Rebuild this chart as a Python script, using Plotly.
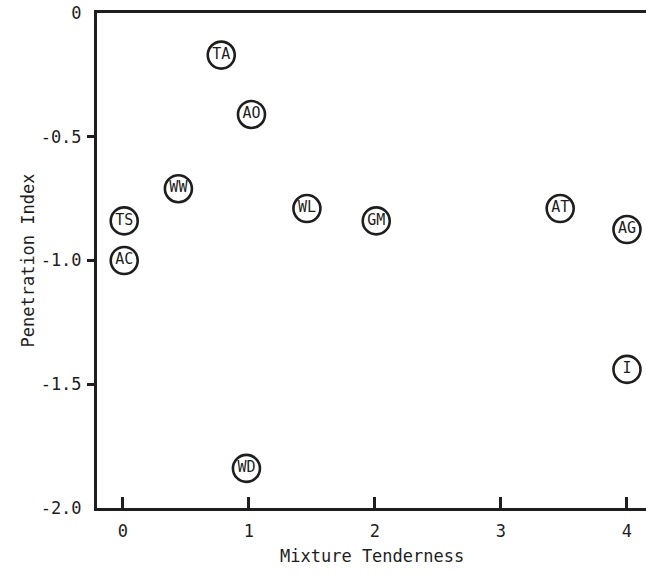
import plotly.graph_objects as go

labels = ["TA", "AO", "WW", "TS", "AC", "WL", "GM", "AT", "AG", "I", "WD"]
tenderness = [0.78, 1.02, 0.44, 0.01, 0.01, 1.46, 2.01, 3.47, 4.0, 4.0, 0.98]
penetration = [-0.17, -0.41, -0.71, -0.84, -1.0, -0.79, -0.84, -0.79, -0.875, -1.44, -1.84]

x_ticks = [0, 1, 2, 3, 4]
y_label_vals = [0, -0.5, -1.0, -1.5, -2.0]
y_label_text = ["0", "-0.5", "-1.0", "-1.5", "-2.0"]
y_tick_marks = [-0.5, -1.0, -1.5]
x_title = "Mixture Tenderness"
y_title = "Penetration Index"

FONT = "DejaVu Sans Mono, Liberation Mono, monospace"
INK = "#1e1e1e"

fig = go.Figure()
fig.add_trace(go.Scatter(
    x=tenderness, y=penetration, text=labels,
    mode="markers+text", textposition="middle center",
    marker=dict(symbol="circle-open", size=27, color=INK, line=dict(width=2.6, color=INK)),
    textfont=dict(family=FONT, size=15, color=INK),
    cliponaxis=False, showlegend=False, hoverinfo="skip",
))
# empty trace so the tick-mark-only axis is drawn
fig.add_trace(go.Scatter(x=[None], y=[None], yaxis="y2", showlegend=False, hoverinfo="skip"))

fig.update_layout(
    template="none",
    width=646, height=584,
    margin=dict(l=97, r=0, t=13, b=76),
    paper_bgcolor="white", plot_bgcolor="white",
    font=dict(family=FONT, size=17, color=INK),
    xaxis=dict(
        range=[-0.206, 4.151], tickmode="array", tickvals=x_ticks, ticks="inside", ticklen=11, tickwidth=2.5,
        tickcolor=INK, showgrid=False, zeroline=False, showline=True, linewidth=3,
        linecolor=INK, mirror=True, tickfont=dict(family=FONT, size=17, color=INK),
        ticklabelstandoff=6,
    ),
    yaxis=dict(
        range=[-2.0, 0.0], tickmode="array", tickvals=y_label_vals, ticktext=y_label_text, ticks="",
        showgrid=False, zeroline=False, showline=True, linewidth=3, linecolor=INK,
        tickfont=dict(family=FONT, size=17, color=INK), ticklabelstandoff=9,
    ),
    yaxis2=dict(
        range=[-2.0, 0.0], overlaying="y", side="left", tickmode="array", tickvals=y_tick_marks,
        ticks="outside", ticklen=9, tickwidth=2.5, tickcolor=INK, showticklabels=False,
        showgrid=False, zeroline=False, showline=False,
    ),
    annotations=[
        dict(text=x_title, xref="paper", yref="paper", x=0.5, y=-0.097,
             xanchor="center", yanchor="middle", showarrow=False,
             font=dict(family=FONT, size=17, color=INK)),
        dict(text=y_title, xref="paper", yref="paper", x=-0.1257, y=0.5,
             xanchor="center", yanchor="middle", showarrow=False, textangle=-90,
             font=dict(family=FONT, size=17, color=INK)),
    ],
)

fig.write_html("out.html")
